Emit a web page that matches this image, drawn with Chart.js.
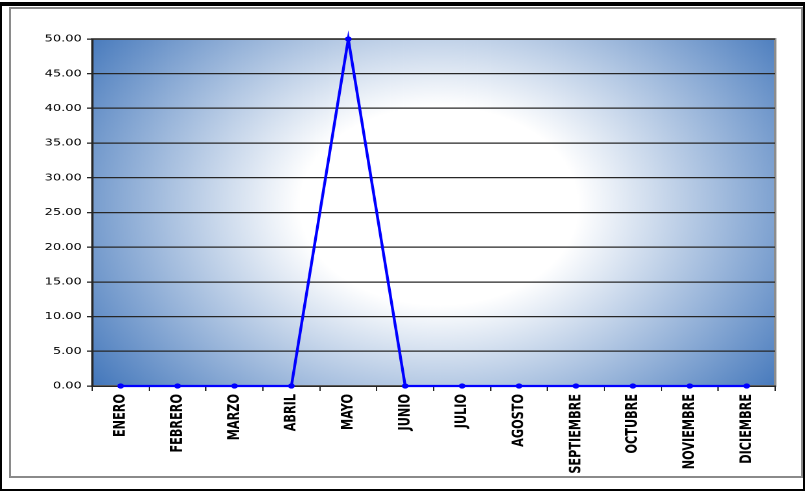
<!DOCTYPE html>
<html lang="es">
<head>
<meta charset="utf-8">
<title>Mensual</title>
<script src="https://cdn.jsdelivr.net/npm/chart.js@4.4.1/dist/chart.umd.min.js"></script>
<style>
    html, body {
        margin: 0;
        padding: 0;
        background: #ffffff;
    }
    .page {
        position: relative;
        width: 805px;
        height: 491px;
        overflow: hidden;
    }
    /* black outer frame */
    .frame {
        position: absolute;
        left: 0;
        top: 2px;
        width: 805px;
        height: 489px;
        box-sizing: border-box;
        border: 2px solid #000;
        border-top-width: 4px;
    }
    /* grey chart border */
    .chart-box {
        position: absolute;
        left: 9px;
        top: 7px;
        width: 794px;
        height: 471px;
        box-sizing: border-box;
        border: 2px solid #8a8a8a;
    }
    #chart {
        position: absolute;
        left: 0;
        top: 0;
    }
</style>
</head>
<body>
<div class="page">
    <div class="frame"></div>
    <div class="chart-box"></div>
    <!-- drawn narrow and widened by CSS, like the stretched original sheet -->
    <canvas id="chart" width="620" height="491" style="width:805px;height:491px"></canvas>
</div>
<script>
// Months on the category axis
const months = [
    'ENERO', 'FEBRERO', 'MARZO', 'ABRIL', 'MAYO', 'JUNIO',
    'JULIO', 'AGOSTO', 'SEPTIEMBRE', 'OCTUBRE', 'NOVIEMBRE', 'DICIEMBRE'
];

// Monthly values
const values = [0, 0, 0, 0, 50, 0, 0, 0, 0, 0, 0, 0];

// Value axis range
const yMin = 0;
const yMax = 50;
const yStep = 5;

const axisColor = '#262626';

/**
 * Plot area fill: white centre fading out to blue corners,
 * plus the grey frame around it
 */
const plotBackground = {
    id: 'plotBackground',
    beforeDraw(chart) {
        const { ctx, chartArea } = chart;
        const { left, top, right, bottom } = chartArea;
        const w = right - left;
        const h = bottom - top;
        const cx = left + w * 0.508;
        const cy = top + h * 0.48;
        const rx = w * 0.62;
        const ry = h * 0.87;

        ctx.save();
        ctx.beginPath();
        ctx.rect(left, top, w, h);
        ctx.clip();
        ctx.translate(cx, cy);
        ctx.scale(rx / ry, 1);
        const grad = ctx.createRadialGradient(0, 0, 0, 0, 0, ry);
        grad.addColorStop(0, '#ffffff');
        grad.addColorStop(0.33, '#ffffff');
        grad.addColorStop(1, '#4679bc');
        ctx.fillStyle = grad;
        ctx.fillRect(-2000, -2000, 4000, 4000);
        ctx.restore();

        ctx.save();
        ctx.strokeStyle = '#8c8c8c';
        ctx.lineWidth = 2;
        ctx.strokeRect(left, top, w, h);
        ctx.restore();
    }
};

const ctx = document.getElementById('chart').getContext('2d');

new Chart(ctx, {
    type: 'line',
    data: {
        labels: months,
        datasets: [{
            data: values,
            borderColor: '#0000ff',
            backgroundColor: '#0000ff',
            borderWidth: 2.2,
            tension: 0,
            pointRadius: 2.6,
            pointHoverRadius: 2.6,
            pointBorderWidth: 0,
            pointBackgroundColor: '#0000ff',
            clip: false
        }]
    },
    options: {
        responsive: false,
        devicePixelRatio: 2,
        animation: false,
        events: [],
        layout: {
            padding: { left: 0, top: 39, right: 23, bottom: 0 }
        },
        scales: {
            x: {
                offset: true,
                grid: {
                    offset: true,
                    drawOnChartArea: false,
                    drawTicks: true,
                    tickLength: 5,
                    color: axisColor,
                    lineWidth: 1
                },
                border: {
                    color: axisColor,
                    width: 1.5
                },
                ticks: {
                    minRotation: 90,
                    maxRotation: 90,
                    autoSkip: false,
                    padding: 3,
                    color: '#000',
                    font: {
                        family: "'Liberation Sans Narrow', 'DejaVu Sans Condensed', 'Liberation Sans', sans-serif",
                        size: 12.5,
                        weight: 'bold'
                    }
                },
                afterFit(scale) {
                    scale.height = 105;
                }
            },
            y: {
                min: yMin,
                max: yMax,
                grid: {
                    color: axisColor,
                    lineWidth: 1.3,
                    tickLength: 4
                },
                border: {
                    color: axisColor,
                    width: 1.5
                },
                ticks: {
                    stepSize: yStep,
                    padding: 4,
                    color: '#000',
                    font: {
                        family: "'DejaVu Sans', Verdana, sans-serif",
                        size: 10
                    },
                    callback: function (value) {
                        return value.toFixed(2);
                    }
                },
                afterFit(scale) {
                    scale.width = 71;
                }
            }
        },
        plugins: {
            legend: { display: false },
            tooltip: { enabled: false }
        }
    },
    plugins: [plotBackground]
});
</script>
</body>
</html>
